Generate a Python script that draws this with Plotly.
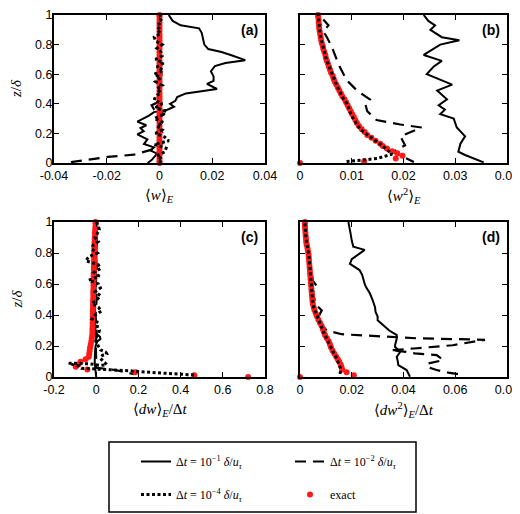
import plotly.graph_objects as go

# ---------------- data ----------------
Z_EXACT = [0, 0.011, 0.03, 0.049, 0.066, 0.08, 0.098, 0.115, 0.13,
           0.15, 0.17, 0.19, 0.21, 0.23, 0.25, 0.27, 0.29, 0.31, 0.33, 0.35,
           0.37, 0.39, 0.41, 0.43, 0.45, 0.47, 0.49, 0.51, 0.53, 0.55,
           0.57, 0.59, 0.61, 0.63, 0.65, 0.67, 0.69, 0.71, 0.73, 0.75,
           0.77, 0.79, 0.81, 0.83, 0.85, 0.87, 0.89, 0.91, 0.93, 0.95,
           0.97, 0.99, 1.0]

EXACT_A = [0, 0, 0, 0, 0, 0, 0, 0, 0,
           0, 0, 0, 0, 0, 0, 0, 0, 0, 0, 0,
           0, 0, 0, 0, 0, 0, 0, 0, 0, 0,
           0, 0, 0, 0, 0, 0, 0, 0, 0, 0,
           0, 0, 0, 0, 0, 0, 0, 0, 0, 0,
           0, 0, 0]
EXACT_B = [0, 0.0124, 0.0185, 0.0198, 0.0188, 0.0178, 0.0168, 0.016, 0.0155,
           0.0146, 0.0138, 0.013, 0.0125, 0.0119, 0.0114, 0.011, 0.0107, 0.0104, 0.0101, 0.0098,
           0.0095, 0.0092, 0.0089, 0.0086, 0.0082, 0.0079, 0.0076, 0.0073, 0.007, 0.0067,
           0.0065, 0.0063, 0.006, 0.0058, 0.0056, 0.0054, 0.0052, 0.005, 0.0049, 0.0047,
           0.0045, 0.0044, 0.0042, 0.0041, 0.004, 0.0039, 0.0038, 0.0037, 0.0037, 0.0036,
           0.0036, 0.0035, 0.0035]
EXACT_C = [0.72, 0.465, 0.185, -0.042, -0.097, -0.085, -0.074, -0.05, -0.035,
           -0.033, -0.031, -0.029, -0.026, -0.023, -0.021, -0.019, -0.018, -0.018, -0.017, -0.017,
           -0.017, -0.016, -0.016, -0.016, -0.015, -0.015, -0.015, -0.014, -0.014, -0.014,
           -0.013, -0.013, -0.013, -0.012, -0.012, -0.012, -0.011, -0.011, -0.011, -0.010,
           -0.010, -0.010, -0.009, -0.009, -0.008, -0.008, -0.007, -0.006, -0.006, -0.005,
           -0.004, -0.003, -0.003]
EXACT_D = [0, 0.0208, 0.018, 0.0163, 0.016, 0.0157, 0.0152, 0.0146, 0.014,
           0.0133, 0.0126, 0.012, 0.0116, 0.0111, 0.0104, 0.0097, 0.0092, 0.0088, 0.0083, 0.0077,
           0.0071, 0.0066, 0.0061, 0.0056, 0.0053, 0.005, 0.0048, 0.0047, 0.0046, 0.0045,
           0.0044, 0.0043, 0.0042, 0.0041, 0.004, 0.0039, 0.0038, 0.0037, 0.0036, 0.0035,
           0.0034, 0.0033, 0.0031, 0.0029, 0.0026, 0.0024, 0.0023, 0.0022, 0.0021, 0.002,
           0.0019, 0.0019, 0.0019]

# (a) <w>_E
SOLID_A_Z = [1.0, 0.96, 0.93, 0.91, 0.88, 0.84, 0.80, 0.77, 0.75, 0.73, 0.695, 0.675, 0.655,
             0.62, 0.585, 0.555, 0.535, 0.50, 0.485, 0.47, 0.445, 0.42, 0.40, 0.38, 0.36,
             0.344, 0.32, 0.28, 0.255, 0.236, 0.215, 0.193, 0.16, 0.128, 0.106, 0.084,
             0.063, 0.04, 0.02, 0.0]
SOLID_A = [0.0035, 0.005, 0.008, 0.015, 0.016, 0.0165, 0.017, 0.0185, 0.0235, 0.027, 0.0325,
           0.025, 0.021, 0.0195, 0.0205, 0.0205, 0.018, 0.0218, 0.015, 0.010, 0.0067, 0.006,
           0.004, 0.0055, 0.003, -0.0021, -0.004, -0.0084, -0.005, -0.0072, -0.006, -0.0084,
           -0.0046, -0.0059, -0.0021, -0.0034, -0.0009, -0.002, -0.003, -0.0045]
DASH_A_Z = [0.006, 0.024, 0.041, 0.056, 0.084, 0.10, 0.13, 0.16, 0.20, 0.25, 0.30, 0.33,
            0.36, 0.39, 0.42, 0.5, 0.6, 0.7, 0.8, 0.9, 1.0]
DASH_A = [-0.0336, -0.026, -0.0197, -0.0097, -0.0046, -0.001, 0.001, -0.0005, 0.0012, 0.0,
          -0.001, 0.002, -0.002, -0.003, 0.0005, -0.0005, 0.0008, -0.0005, 0.0006, -0.0004, 0.0]
DOT_A_Z = [0.0, 0.025, 0.05, 0.075, 0.1, 0.125, 0.15, 0.175, 0.2, 0.225, 0.25, 0.275, 0.3,
           0.325, 0.35, 0.375, 0.4, 0.425, 0.45, 0.475, 0.5, 0.525, 0.55, 0.575, 0.6, 0.625,
           0.65, 0.675, 0.7, 0.725, 0.75, 0.775, 0.8, 0.825, 0.85, 0.875, 0.9, 0.925, 0.95,
           0.975, 1.0]
DOT_A = [0.0, 0.001, -0.001, 0.002, 0.0025, -0.002, 0.0035, 0.002, -0.0015, 0.001, -0.001,
         0.0015, -0.002, 0.001, 0.002, -0.0015, 0.001, -0.002, -0.0015, 0.0005, -0.001, 0.001,
         -0.0015, 0.0005, -0.002, 0.0015, -0.001, 0.0015, -0.0015, 0.001, 0.0005, -0.001,
         0.001, -0.0015, -0.002, 0.0005, -0.001, 0.0005, -0.0005, 0.001, 0.0]

# (b) <w^2>_E
SOLID_B_Z = [1.0, 0.96, 0.93, 0.90, 0.85, 0.83, 0.80, 0.73, 0.69, 0.65, 0.60, 0.53, 0.49,
             0.43, 0.39, 0.36, 0.33, 0.30, 0.24, 0.18, 0.13, 0.076, 0.054, 0.004]
SOLID_B = [0.0239, 0.0248, 0.0261, 0.0252, 0.0274, 0.0308, 0.0271, 0.0239, 0.0274, 0.0258,
           0.0245, 0.0294, 0.0265, 0.0284, 0.0268, 0.028, 0.0271, 0.0297, 0.0303, 0.0319,
           0.031, 0.0306, 0.0319, 0.0355]
DASH_B_Z = [0.97, 0.93, 0.89, 0.85, 0.78, 0.67, 0.56, 0.49, 0.43, 0.40, 0.35, 0.29, 0.26,
            0.24, 0.18, 0.12, 0.075, 0.006]
DASH_B = [0.0045, 0.0055, 0.0045, 0.0052, 0.0062, 0.0074, 0.009, 0.011, 0.0135, 0.0126,
          0.013, 0.0148, 0.0194, 0.0235, 0.0194, 0.0203, 0.018, 0.022]
DOT_B_Z = [0.01, 0.02, 0.03, 0.06, 0.08, 0.1, 0.125, 0.15, 0.175, 0.2, 0.225, 0.25, 0.275,
           0.3, 0.325, 0.35, 0.375, 0.4, 0.425, 0.45, 0.475, 0.5, 0.525, 0.55, 0.575, 0.6,
           0.625, 0.65, 0.675, 0.7, 0.725, 0.75, 0.775, 0.8, 0.825, 0.85, 0.875, 0.9, 0.925,
           0.95, 0.975, 1.0]
DOT_B = [0.009, 0.0116, 0.0149, 0.0178, 0.0172, 0.0165, 0.0156, 0.0146, 0.0136, 0.0126,
         0.0117, 0.0112, 0.0107, 0.0103, 0.0099, 0.0096, 0.0093, 0.0091, 0.0086, 0.0081,
         0.0078, 0.0074, 0.0071, 0.0068, 0.0065, 0.0062, 0.0059, 0.0056, 0.0054, 0.0051,
         0.0049, 0.0047, 0.0045, 0.0043, 0.0041, 0.004, 0.0039, 0.0038, 0.0037, 0.0036,
         0.0036, 0.0035]

# (c) <dw>_E / dt
SOLID_C_Z = [1.0, 0.9, 0.8, 0.7, 0.6, 0.5, 0.4, 0.3, 0.28, 0.26, 0.245, 0.23, 0.2, 0.15,
             0.1, 0.05, 0.0]
SOLID_C = [0.005, 0.003, 0.0, -0.002, -0.004, -0.005, -0.006, -0.004, 0.0, 0.018, 0.02,
           0.005, -0.003, -0.006, -0.007, -0.004, 0.0]
DASH_C_Z = [1.0, 0.9, 0.8, 0.7, 0.6, 0.5, 0.4, 0.3, 0.2, 0.12, 0.08, 0.06, 0.045, 0.03, 0.018]
DASH_C = [0.0, 0.004, -0.003, 0.003, -0.002, 0.002, -0.003, 0.002, -0.002, 0.0, -0.005,
          0.0, 0.09, 0.14, 0.18]
DOT_C_Z = [1.0, 0.975, 0.95, 0.925, 0.9, 0.875, 0.85, 0.825, 0.8, 0.775, 0.75, 0.725, 0.7,
           0.675, 0.65, 0.625, 0.6, 0.575, 0.55, 0.525, 0.5, 0.475, 0.45, 0.425, 0.4, 0.375,
           0.35, 0.325, 0.3, 0.275, 0.25, 0.225, 0.2, 0.175, 0.16, 0.15, 0.14, 0.12, 0.1,
           0.08, 0.075, 0.085, 0.088, 0.088, 0.08, 0.07, 0.056, 0.052, 0.048, 0.045, 0.04,
           0.035, 0.03, 0.025, 0.02, 0.016, 0.013, 0.012]
DOT_C = [0.0, 0.01, 0.015, 0.005, -0.005, 0.01, -0.015, -0.02, 0.005, -0.035, -0.05, 0.01,
         0.02, -0.01, 0.015, -0.035, 0.01, 0.02, -0.005, 0.02, 0.005, -0.02, 0.01, 0.025,
         -0.005, -0.02, 0.01, 0.005, 0.015, 0.01, -0.005, 0.0, 0.01, 0.02, 0.045, 0.05, 0.03,
         0.02, 0.035, 0.05, 0.02, -0.03, -0.09, -0.13, -0.11, -0.08, -0.07, 0.0, 0.07, 0.11,
         0.16, 0.2, 0.25, 0.3, 0.35, 0.4, 0.43, 0.47]

# (d) <dw^2>_E / dt
SOLID_D_Z = [1.0, 0.96, 0.93, 0.88, 0.84, 0.82, 0.79, 0.76, 0.73, 0.69, 0.66, 0.63, 0.6,
             0.58, 0.54, 0.5, 0.45, 0.42, 0.39, 0.366, 0.33, 0.30, 0.27, 0.24, 0.21, 0.195,
             0.162, 0.13, 0.1, 0.077, 0.045, 0.002]
SOLID_D = [0.0187, 0.019, 0.0195, 0.02, 0.0206, 0.025, 0.0225, 0.02, 0.0193, 0.023, 0.024,
           0.0244, 0.025, 0.0255, 0.027, 0.028, 0.029, 0.0292, 0.03, 0.03, 0.0325, 0.0345,
           0.0374, 0.0373, 0.0368, 0.0367, 0.0387, 0.0374, 0.0378, 0.038, 0.0412, 0.0425]
DASH_D_Z = [1.0, 0.9, 0.8, 0.7, 0.62, 0.58, 0.55, 0.5, 0.47, 0.43, 0.4, 0.366, 0.3, 0.276,
            0.26, 0.25, 0.24, 0.22, 0.205, 0.184, 0.173, 0.162, 0.152, 0.141, 0.109, 0.088,
            0.066, 0.045, 0.028, 0.013]
DASH_D = [0.0022, 0.0028, 0.0035, 0.0042, 0.005, 0.0068, 0.005, 0.0055, 0.006, 0.0084,
          0.0075, 0.007, 0.0103, 0.0161, 0.032, 0.045, 0.0715, 0.065, 0.059, 0.044, 0.035,
          0.041, 0.0444, 0.0528, 0.0554, 0.0496, 0.049, 0.0528, 0.0573, 0.063]
DOT_D_Z = [0.02, 0.04, 0.06, 0.08, 0.1, 0.125, 0.15, 0.175, 0.2, 0.225, 0.25, 0.275, 0.3,
           0.325, 0.35, 0.375, 0.4, 0.425, 0.45, 0.475, 0.5, 0.525, 0.55, 0.575, 0.6, 0.625,
           0.65, 0.675, 0.7, 0.725, 0.75, 0.775, 0.8, 0.825, 0.85, 0.875, 0.9, 0.925, 0.95,
           0.975, 1.0]
DOT_D = [0.0154, 0.0158, 0.0156, 0.0152, 0.0147, 0.014, 0.0132, 0.0124, 0.0118, 0.0111,
         0.0102, 0.0095, 0.0089, 0.0083, 0.0076, 0.0068, 0.0063, 0.0057, 0.0053, 0.0051,
         0.0048, 0.0047, 0.0046, 0.0045, 0.0044, 0.0043, 0.0042, 0.0041, 0.004, 0.0039,
         0.0037, 0.0035, 0.0033, 0.003, 0.0027, 0.0025, 0.0023, 0.0022, 0.0021, 0.002, 0.0019]

SERIES_NAMES = [
    "Δ<i>t</i> = 10<sup>−1</sup> <i>δ</i>/<i>u</i><sub><i>τ</i></sub>",
    "Δ<i>t</i> = 10<sup>−2</sup> <i>δ</i>/<i>u</i><sub><i>τ</i></sub>",
    "Δ<i>t</i> = 10<sup>−4</sup> <i>δ</i>/<i>u</i><sub><i>τ</i></sub>",
    "exact",
]
PANEL_LABELS = ["(a)", "(b)", "(c)", "(d)"]
X_TITLES = ["⟨<i>w</i>⟩<sub><i>E</i></sub>",
            "⟨<i>w</i><sup>2</sup>⟩<sub><i>E</i></sub>",
            "⟨<i>dw</i>⟩<sub><i>E</i></sub>/Δ<i>t</i>",
            "⟨<i>dw</i><sup>2</sup>⟩<sub><i>E</i></sub>/Δ<i>t</i>"]
Y_TITLE = "<i>z</i>/<i>δ</i>"

X_TICKS = [[-0.04, -0.02, 0, 0.02, 0.04],
           [0, 0.01, 0.02, 0.03, 0.04],
           [-0.2, 0, 0.2, 0.4, 0.6, 0.8],
           [0, 0.02, 0.04, 0.06, 0.08]]
X_TICKTEXT = [["-0.04", "-0.02", "0", "0.02", "0.04"],
              ["0", "0.01", "0.02", "0.03", "0.04"],
              ["-0.2", "0", "0.2", "0.4", "0.6", "0.8"],
              ["0", "0.02", "0.04", "0.06", "0.08"]]
X_RANGES = [[-0.04, 0.04], [0, 0.04], [-0.2, 0.8], [0, 0.08]]
Y_TICKS = [0, 0.2, 0.4, 0.6, 0.8, 1]
Y_TICKTEXT = ["0", "0.2", "0.4", "0.6", "0.8", "1"]

PANELS = [
    (SOLID_A_Z, SOLID_A, DASH_A_Z, DASH_A, DOT_A_Z, DOT_A, EXACT_A),
    (SOLID_B_Z, SOLID_B, DASH_B_Z, DASH_B, DOT_B_Z, DOT_B, EXACT_B),
    (SOLID_C_Z, SOLID_C, DASH_C_Z, DASH_C, DOT_C_Z, DOT_C, EXACT_C),
    (SOLID_D_Z, SOLID_D, DASH_D_Z, DASH_D, DOT_D_Z, DOT_D, EXACT_D),
]

# ---------------- layout geometry ----------------
# the page body keeps an 8px margin, so the figure is sized to fit the
# 520x514 window and reference pixel positions are shifted by that margin
OFF = 8
W, H = 520 - OFF, 514 - OFF


def px(x):
    return (x - OFF) / W


def py(y):
    return 1 - (y - OFF) / H


X_DOMAINS = [[px(54), px(265)], [px(300), px(507)], [px(54), px(265)], [px(300), px(507)]]
Y_DOMAINS = [[py(163), py(15)], [py(163), py(15)], [py(377), py(222)], [py(377), py(222)]]

SERIF = "Liberation Serif, DejaVu Serif, serif"
SANS = "Liberation Sans, Arial, sans-serif"

# legend column for each series (solid/dotted left, dashed/exact right)
LEGEND_OF = ["legend", "legend2", "legend", "legend2"]

fig = go.Figure()
for i, (sz, sv, dz, dv, oz, ov, ev) in enumerate(PANELS):
    xr = "x" if i == 0 else f"x{i+1}"
    yr = "y" if i == 0 else f"y{i+1}"
    show = (i == 0)
    fig.add_trace(go.Scatter(x=sv, y=sz, xaxis=xr, yaxis=yr, mode="lines",
                             line=dict(color="black", width=2),
                             name=SERIES_NAMES[0], showlegend=show,
                             legend=LEGEND_OF[0], legendgroup="s1", legendrank=1))
    fig.add_trace(go.Scatter(x=dv, y=dz, xaxis=xr, yaxis=yr, mode="lines",
                             line=dict(color="black", width=2.2, dash="11px,7px"),
                             name=SERIES_NAMES[1], showlegend=show,
                             legend=LEGEND_OF[1], legendgroup="s2", legendrank=1))
    fig.add_trace(go.Scatter(x=ev, y=Z_EXACT, xaxis=xr, yaxis=yr, mode="markers",
                             marker=dict(color="#ff1a1a", size=6, line=dict(width=0)),
                             cliponaxis=False,
                             name=SERIES_NAMES[3], showlegend=show,
                             legend=LEGEND_OF[3], legendgroup="s4", legendrank=2))
    fig.add_trace(go.Scatter(x=ov, y=oz, xaxis=xr, yaxis=yr, mode="lines",
                             line=dict(color="black", width=3, dash="3px,2.5px"),
                             name=SERIES_NAMES[2], showlegend=show,
                             legend=LEGEND_OF[2], legendgroup="s3", legendrank=2))

axis_common = dict(ticks="inside", ticklen=5, tickwidth=1.3, tickcolor="black",
                   showline=True, linecolor="black", linewidth=2, mirror="ticks",
                   showgrid=False, zeroline=False, automargin=False,
                   ticklabeloverflow="allow",
                   tickfont=dict(family=SANS, size=12.5, color="black"))

layout = dict(width=W, height=H, margin=dict(l=0, r=0, t=0, b=0),
              plot_bgcolor="white", paper_bgcolor="white", showlegend=True)
for i in range(4):
    xk = "xaxis" if i == 0 else f"xaxis{i+1}"
    yk = "yaxis" if i == 0 else f"yaxis{i+1}"
    xr = "x" if i == 0 else f"x{i+1}"
    yr = "y" if i == 0 else f"y{i+1}"
    layout[xk] = dict(axis_common, domain=X_DOMAINS[i], range=X_RANGES[i], anchor=yr,
                      tickmode="array", tickvals=X_TICKS[i], ticktext=X_TICKTEXT[i])
    layout[yk] = dict(axis_common, domain=Y_DOMAINS[i], range=[0, 1], anchor=xr,
                      tickmode="array", tickvals=Y_TICKS, ticktext=Y_TICKTEXT,
                      showticklabels=(i % 2 == 0), ticklabelstandoff=-3)
fig.update_layout(**layout)

annotations = []
for i in range(4):
    xr = "x" if i == 0 else f"x{i+1}"
    yr = "y" if i == 0 else f"y{i+1}"
    annotations.append(dict(text=f"<b>{PANEL_LABELS[i]}</b>", xref=f"{xr} domain",
                            yref=f"{yr} domain", x=0.975, y=0.965, xanchor="right",
                            yanchor="top", showarrow=False,
                            font=dict(family=SANS, size=14, color="black")))
    xd = X_DOMAINS[i]
    ybot = Y_DOMAINS[i][0]
    annotations.append(dict(text=X_TITLES[i], xref="paper", yref="paper",
                            x=(xd[0] + xd[1]) / 2, y=ybot - 33 / H, xanchor="center",
                            yanchor="middle", showarrow=False,
                            font=dict(family=SERIF, size=15, color="black")))
    if i % 2 == 0:
        yd = Y_DOMAINS[i]
        annotations.append(dict(text=Y_TITLE, xref="paper", yref="paper",
                                x=px(16), y=(yd[0] + yd[1]) / 2, xanchor="center",
                                yanchor="middle", textangle=-90, showarrow=False,
                                font=dict(family=SERIF, size=15, color="black")))
fig.update_layout(annotations=annotations)

# legend frame
fig.add_shape(type="rect", xref="paper", yref="paper",
              x0=px(109), x1=px(416), y0=py(512), y1=py(442),
              line=dict(color="black", width=1.5), fillcolor="rgba(0,0,0,0)", layer="above")

legend_common = dict(orientation="v", xanchor="left", yanchor="top",
                     borderwidth=0, bgcolor="rgba(0,0,0,0)", tracegroupgap=14,
                     font=dict(family=SERIF, size=12, color="black"),
                     traceorder="grouped")
fig.update_layout(
    legend=dict(legend_common, x=px(136), y=py(447)),
    legend2=dict(legend_common, x=px(290), y=py(447)),
)

fig.write_html("out.html")
